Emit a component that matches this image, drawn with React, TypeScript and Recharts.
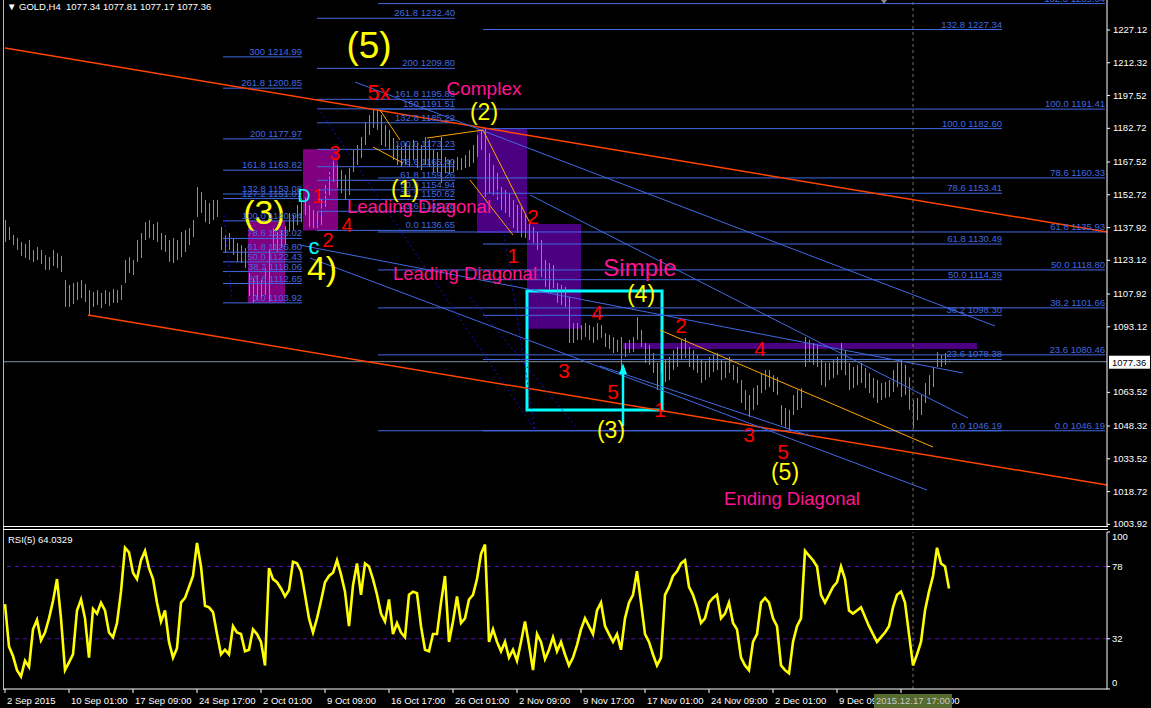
import React from "react"
import {
  ComposedChart, Bar, Line, XAxis, YAxis,
  ReferenceLine, ReferenceArea, ReferenceDot,
} from "recharts"

const FONT = "'Liberation Sans', Arial, sans-serif"
const BAR_GREEN = "#32cd32"
const FIB_BLUE = "#4169e1"
const RED = "#ff0000"
const YELLOW = "#ffff00"
const PINK = "#ff1493"
const CYAN = "#00ffff"
const TREND_RED = "#ff4500"
const ORANGE = "#ffa500"
const DOT_BLUE = "#1010d0"

// GOLD H4 bars, one entry per bar (high / low)
const highs = [
  1141.3, 1138.2, 1134.6, 1133.2, 1131.4, 1130.5, 1132.3, 1127.8, 1129.1, 1127.8,
  1125.5, 1124.6, 1127.8, 1126.4, 1125.1, 1114.2, 1112.0, 1112.9, 1113.3, 1114.2,
  1112.4, 1109.7, 1108.8, 1109.7, 1108.4, 1109.7, 1108.8, 1110.2, 1109.7, 1112.0,
  1123.3, 1124.6, 1123.3, 1132.3, 1135.5, 1140.4, 1141.3, 1139.5, 1140.4, 1135.5,
  1134.6, 1132.3, 1133.2, 1132.3, 1135.9, 1136.8, 1137.7, 1141.3, 1156.2, 1154.0,
  1150.4, 1149.0, 1150.4, 1150.4, 1138.2, 1134.6, 1135.5, 1133.2, 1130.9, 1130.0,
  1128.7, 1117.4, 1115.2, 1116.5, 1114.2, 1119.7, 1127.8, 1137.7, 1135.9, 1136.8,
  1138.6, 1144.5, 1143.6, 1148.1, 1151.3, 1151.7, 1148.1, 1145.9, 1145.0, 1150.4,
  1157.1, 1163.0, 1169.3, 1166.2, 1163.9, 1161.7, 1164.8, 1172.9, 1175.2, 1178.8,
  1185.6, 1188.7, 1191.0, 1191.5, 1188.7, 1184.2, 1182.0, 1178.4, 1175.2, 1174.3,
  1176.1, 1175.2, 1177.5, 1176.1, 1175.2, 1178.8, 1177.5, 1172.9, 1172.0, 1178.8,
  1169.8, 1168.4, 1168.4, 1169.8, 1169.3, 1170.7, 1172.9, 1175.2, 1179.7, 1181.5,
  1182.6, 1171.6, 1166.2, 1162.6, 1156.2, 1154.9, 1153.5, 1150.4, 1148.1, 1147.2,
  1143.6, 1141.3, 1138.2, 1135.9, 1132.3, 1123.3, 1121.9, 1121.0, 1112.9, 1112.0,
  1111.1, 1106.6, 1094.8, 1094.8, 1093.9, 1094.8, 1093.9, 1093.0, 1094.8, 1093.9,
  1090.3, 1089.4, 1088.5, 1087.2, 1088.5, 1085.8, 1087.2, 1088.5, 1097.5, 1091.7,
  1085.8, 1084.9, 1081.3, 1076.8, 1072.3, 1078.1, 1079.5, 1082.6, 1084.0, 1087.2,
  1088.1, 1084.0, 1082.6, 1080.4, 1078.1, 1077.2, 1079.5, 1080.4, 1081.3, 1078.1,
  1077.2, 1079.5, 1075.9, 1075.0, 1069.1, 1064.6, 1062.3, 1065.5, 1066.8, 1072.3,
  1073.6, 1073.6, 1071.3, 1070.4, 1057.8, 1056.5, 1055.6, 1062.3, 1064.6, 1065.5,
  1088.5, 1087.2, 1085.8, 1084.9, 1078.1, 1076.8, 1076.8, 1078.1, 1079.5, 1085.8,
  1082.6, 1076.8, 1075.0, 1075.9, 1076.8, 1074.5, 1072.3, 1070.0, 1069.1, 1067.7,
  1068.2, 1069.1, 1073.6, 1076.8, 1078.1, 1075.9, 1070.4, 1060.1, 1061.0, 1062.3,
  1067.7, 1071.3, 1075.0, 1081.7, 1080.4, 1081.3, 1077.81,
]
const lows = [
  1131.4, 1132.3, 1130.0, 1127.8, 1125.1, 1124.2, 1123.3, 1122.4, 1123.3, 1121.5,
  1118.8, 1118.8, 1120.6, 1119.7, 1117.9, 1102.1, 1102.1, 1103.4, 1105.2, 1106.1,
  1104.3, 1098.4, 1102.1, 1103.0, 1101.6, 1103.4, 1102.5, 1103.9, 1103.9, 1105.2,
  1112.9, 1117.4, 1116.5, 1122.4, 1124.2, 1132.3, 1133.2, 1132.3, 1131.4, 1127.8,
  1126.9, 1122.4, 1121.9, 1123.3, 1124.6, 1126.9, 1130.0, 1133.6, 1142.7, 1144.5,
  1140.4, 1139.5, 1141.3, 1142.7, 1127.8, 1126.4, 1127.8, 1125.5, 1122.4, 1121.9,
  1119.7, 1107.0, 1103.9, 1105.2, 1106.1, 1107.5, 1104.3, 1127.8, 1126.9, 1128.7,
  1130.0, 1135.9, 1136.8, 1139.1, 1140.4, 1143.6, 1138.2, 1137.7, 1136.7, 1139.1,
  1147.2, 1152.6, 1158.5, 1155.8, 1153.5, 1150.4, 1152.6, 1163.0, 1166.2, 1169.3,
  1175.2, 1179.7, 1182.9, 1182.0, 1175.2, 1174.3, 1172.9, 1168.4, 1166.2, 1165.3,
  1166.2, 1165.3, 1168.4, 1164.8, 1163.9, 1166.2, 1165.3, 1162.6, 1163.0, 1158.0,
  1162.6, 1162.1, 1163.0, 1163.9, 1163.9, 1164.8, 1165.3, 1167.1, 1169.8, 1172.9,
  1151.7, 1153.5, 1152.6, 1150.4, 1145.9, 1144.5, 1142.7, 1137.7, 1135.5, 1133.6,
  1133.2, 1132.3, 1130.9, 1127.8, 1115.6, 1111.1, 1109.7, 1110.6, 1103.9, 1103.0,
  1102.1, 1085.8, 1085.8, 1087.2, 1087.2, 1088.5, 1087.2, 1085.8, 1087.2, 1088.1,
  1084.0, 1083.1, 1081.3, 1081.7, 1073.6, 1079.5, 1081.3, 1081.7, 1087.2, 1084.0,
  1076.8, 1075.9, 1072.3, 1064.6, 1064.6, 1068.2, 1069.1, 1073.6, 1075.0, 1078.1,
  1079.0, 1075.0, 1073.6, 1072.3, 1067.7, 1069.1, 1070.4, 1072.7, 1073.6, 1069.1,
  1070.0, 1072.3, 1069.1, 1067.7, 1058.7, 1055.6, 1052.4, 1055.6, 1057.8, 1063.2,
  1064.6, 1065.9, 1063.7, 1062.3, 1048.8, 1047.4, 1046.19, 1053.3, 1055.6, 1056.5,
  1075.0, 1077.2, 1075.9, 1075.0, 1066.8, 1065.9, 1069.1, 1070.0, 1071.3, 1073.6,
  1071.3, 1064.6, 1065.5, 1066.8, 1067.7, 1065.5, 1063.2, 1061.0, 1058.7, 1060.1,
  1061.0, 1061.4, 1063.7, 1065.9, 1061.4, 1062.3, 1055.6, 1047.4, 1051.0, 1053.3,
  1058.7, 1062.3, 1065.9, 1075.0, 1075.0, 1075.9, 1077.17,
]
// RSI(5), one value per bar
const rsi5 = [
  54, 27, 21, 12, 8, 18, 14, 38, 44, 31,
  36, 45, 56, 70, 45, 12, 17, 22, 50, 57,
  45, 20, 51, 48, 55, 50, 36, 33, 42, 62,
  90, 87, 74, 70, 82, 88, 77, 70, 55, 43,
  50, 30, 20, 26, 55, 58, 65, 72, 93, 78,
  53, 52, 49, 35, 22, 25, 22, 40, 36, 35,
  24, 25, 38, 35, 30, 15, 77, 70, 68, 64,
  59, 63, 81, 80, 75, 60, 45, 36, 45, 56,
  68, 72, 74, 82, 73, 62, 40, 66, 80, 60,
  80, 78, 70, 60, 48, 43, 57, 35, 42, 36,
  33, 60, 62, 61, 40, 25, 24, 35, 35, 55,
  72, 30, 43, 59, 42, 45, 57, 60, 70, 86,
  92, 30, 38, 30, 24, 30, 20, 25, 18, 30,
  43, 28, 12, 35, 30, 19, 25, 33, 24, 30,
  22, 15, 20, 28, 38, 45, 40, 35, 50, 55,
  40, 35, 30, 35, 25, 45, 55, 60, 75, 55,
  35, 30, 22, 15, 20, 60, 65, 72, 75, 80,
  82, 65, 60, 52, 42, 45, 55, 58, 60, 45,
  48, 55, 42, 38, 20, 15, 12, 30, 35, 55,
  58, 55, 45, 40, 15, 12, 10, 30, 40, 45,
  88, 85, 82, 78, 60, 55, 60, 65, 68, 78,
  70, 50, 48, 50, 52, 46, 40, 35, 30, 33,
  36, 40, 52, 60, 62, 55, 35, 15, 22, 30,
  50, 62, 72, 90, 80, 78, 64.0329,
]

const priceTicks = [
  1227.12, 1212.32, 1197.52, 1182.72, 1167.52, 1152.72, 1137.92, 1123.12,
  1107.92, 1093.12, 1063.52, 1048.32, 1033.52, 1018.72, 1003.92,
]
const lastPrice = 1077.36
const dateTickBars = [0, 16, 32, 48, 64, 80, 96, 112, 128, 144, 160, 176, 192, 208, 224]
const dateLabels = [
  "2 Sep 2015", "10 Sep 01:00", "17 Sep 09:00", "24 Sep 17:00", "2 Oct 01:00",
  "9 Oct 09:00", "16 Oct 17:00", "26 Oct 01:00", "2 Nov 09:00", "9 Nov 17:00",
  "17 Nov 01:00", "24 Nov 09:00", "2 Dec 01:00", "9 Dec 09:00", "16 Dec 17:00",
]
const rsiTicks = [0, 32, 78, 100]
const rsiLevels = [32, 78]
const crossBar = 227
const crossLabel = "2015.12.17 17:00"

// fibonacci objects: bar range + [level, price]
const fibSets: { from: number; to: number; levels: [string, number][] }[] = [
  { from: 54.5, to: 74.25, levels: [
    ["300", 1214.99], ["261.8", 1200.85], ["200", 1177.97], ["161.8", 1163.82],
    ["132.8", 1153.08], ["127.2", 1151.01], ["100.0", 1140.94], ["78.6", 1133.02],
    ["61.8", 1126.80], ["50.0", 1122.43], ["38.2", 1118.06], ["23.6", 1112.65], ["0.0", 1103.92],
  ] },
  { from: 78, to: 112.5, levels: [
    ["261.8", 1232.40], ["200", 1209.80], ["161.8", 1195.83], ["150", 1191.51],
    ["132.8", 1185.22], ["100.0", 1173.23], ["78.6", 1165.40], ["61.8", 1159.26],
    ["50.0", 1154.94], ["38.2", 1150.62], ["23.6", 1145.28], ["0.0", 1136.65],
  ] },
  { from: 119.5, to: 249.25, levels: [
    ["132.8", 1227.34], ["100.0", 1182.60], ["78.6", 1153.41], ["61.8", 1130.49],
    ["50.0", 1114.39], ["38.2", 1098.30], ["23.6", 1078.38], ["0.0", 1046.19],
  ] },
  { from: 93.25, to: 275, levels: [
    ["132.8", 1239.04], ["100.0", 1191.41], ["78.6", 1160.33], ["61.8", 1135.93],
    ["50.0", 1118.80], ["38.2", 1101.66], ["23.6", 1080.46], ["0.0", 1046.19],
  ] },
]

// trend lines: [bar, price] -> [bar, price]
const trendLines: { a: [number, number]; b: [number, number]; color: string; w?: number; dash?: string }[] = [
  { a: [0, 1218.99], b: [275.5, 1135.91], color: TREND_RED, w: 1.5 },
  { a: [20.75, 1098.44], b: [275.5, 1021.68], color: TREND_RED, w: 1.5 },
  { a: [87.5, 1203.64], b: [247.5, 1093.47], color: FIB_BLUE },
  { a: [131.25, 1152.62], b: [240.75, 1051.93], color: FIB_BLUE },
  { a: [73.75, 1130.0], b: [239.5, 1072.25], color: FIB_BLUE },
  { a: [76.25, 1124.17], b: [230.5, 1019.43], color: FIB_BLUE },
  { a: [148.75, 1075.41], b: [201.25, 1043.81], color: FIB_BLUE },
  { a: [78.25, 1191.9], b: [132.5, 1046.51], color: DOT_BLUE, dash: "2 3" },
  { a: [123, 1154.88], b: [132.5, 1046.51], color: DOT_BLUE, dash: "2 3" },
  { a: [116.25, 1106.56], b: [143, 1047.42], color: DOT_BLUE, dash: "2 3" },
  { a: [54.75, 1143.59], b: [56.75, 1105.21], color: DOT_BLUE, dash: "2 3" },
  { a: [78, 1136.81], b: [82.5, 1172.03], color: DOT_BLUE, dash: "2 3" },
  { a: [163.75, 1091.66], b: [232, 1038.84], color: ORANGE },
  { a: [105.5, 1178.35], b: [119.5, 1181.96], color: ORANGE },
  { a: [119.5, 1181.96], b: [131.25, 1139.97], color: ORANGE },
  { a: [116.25, 1159.39], b: [127, 1134.56], color: ORANGE },
  { a: [93.75, 1190.99], b: [98.75, 1177.45], color: ORANGE },
  { a: [92, 1174.29], b: [99.5, 1167.07], color: ORANGE },
]

const zones = [
  { x1: 60.75, x2: 70, y1: 1103.92, y2: 1140.94, fill: "#800080" },
  { x1: 74.5, x2: 83.25, y1: 1136.65, y2: 1173.23, fill: "#800080" },
  { x1: 118, x2: 130.5, y1: 1135.5, y2: 1182.6, fill: "#4b0082" },
  { x1: 130.5, x2: 144, y1: 1092.2, y2: 1139.5, fill: "#4b0082" },
  { x1: 154.5, x2: 243, y1: 1083.1, y2: 1085.8, fill: "#4b0082" },
]

const waveLabels: { i: number; p: number; t: string; c: string; s: number }[] = [
  { i: 91, p: 1220.3, t: "(5)", c: YELLOW, s: 37 },
  { i: 93.5, p: 1199.1, t: "5x", c: RED, s: 22 },
  { i: 119.75, p: 1200.5, t: "Complex", c: PINK, s: 19 },
  { i: 119.75, p: 1190.1, t: "(2)", c: YELLOW, s: 23 },
  { i: 82.5, p: 1171.6, t: "3", c: RED, s: 20 },
  { i: 100, p: 1155.3, t: "(1)", c: YELLOW, s: 23 },
  { i: 103.5, p: 1147.6, t: "Leading Diagonal", c: PINK, s: 18.5 },
  { i: 74.75, p: 1152.2, t: "D", c: CYAN, s: 18 },
  { i: 78.25, p: 1152.2, t: "1", c: RED, s: 20 },
  { i: 80.75, p: 1132.3, t: "2", c: RED, s: 20 },
  { i: 85.5, p: 1139.1, t: "4", c: RED, s: 20 },
  { i: 77.25, p: 1129.6, t: "c", c: CYAN, s: 22 },
  { i: 79.25, p: 1119.7, t: "4)", c: YELLOW, s: 34 },
  { i: 115, p: 1117.4, t: "Leading Diagonal", c: PINK, s: 18.5 },
  { i: 127, p: 1125.5, t: "1", c: RED, s: 21 },
  { i: 132, p: 1142.7, t: "2", c: RED, s: 21 },
  { i: 158.75, p: 1119.7, t: "Simple", c: PINK, s: 24 },
  { i: 159, p: 1107.9, t: "(4)", c: YELLOW, s: 23 },
  { i: 148, p: 1099.8, t: "4", c: RED, s: 21 },
  { i: 169, p: 1093.5, t: "2", c: RED, s: 21 },
  { i: 188.75, p: 1083.5, t: "4", c: RED, s: 21 },
  { i: 139.75, p: 1073.6, t: "3", c: RED, s: 21 },
  { i: 152, p: 1064.1, t: "5", c: RED, s: 21 },
  { i: 163.75, p: 1055.6, t: "1", c: RED, s: 21 },
  { i: 151.5, p: 1046.5, t: "(3)", c: YELLOW, s: 23 },
  { i: 186, p: 1044.7, t: "3", c: RED, s: 21 },
  { i: 194.5, p: 1036.6, t: "5", c: RED, s: 21 },
  { i: 195, p: 1027.6, t: "(5)", c: YELLOW, s: 23 },
  { i: 196.75, p: 1015.4, t: "Ending Diagonal", c: PINK, s: 18.5 },
]

const rows = highs.map((h, i) => ({ i, hl: [lows[i], h], rsi: rsi5[i] }))

function HLBar(props: any) {
  const { x, y, width, height } = props
  const cx = Math.round(x + width / 2)
  return <rect x={cx} y={y} width={1} height={Math.max(1, Math.abs(height))} fill={BAR_GREEN} />
}

function label(t: string, c: string, s: number, anchor = "middle", dy = 0, base = "central") {
  return (p: any) => (
    <text x={p.cx} y={p.cy + dy} fill={c} fontSize={s} fontFamily={FONT}
      textAnchor={anchor} dominantBaseline={base}>{t}</text>
  )
}

function PriceTick(props: any) {
  const { x, y, payload } = props
  return (
    <g>
      <line x1={x} x2={x + 3} y1={y} y2={y} stroke="#fff" />
      <text x={x + 6} y={y + 3} fill="#fff" fontSize={9.5} fontFamily={FONT}>
        {Number(payload.value).toFixed(2)}
      </text>
    </g>
  )
}

function RsiTick(props: any) {
  const { x, y, payload } = props
  const v = payload.value
  const dy = v === 100 ? 8 : v === 0 ? -3 : 3
  return (
    <g>
      <line x1={x} x2={x + 3} y1={y} y2={y} stroke="#fff" />
      <text x={x + 5} y={y + dy} fill="#fff" fontSize={9.5} fontFamily={FONT}>{v}</text>
    </g>
  )
}

// date ticks; the crosshair bar is the last tick so its box is painted on top
function DateTick(props: any) {
  const { x, y, payload } = props
  if (payload.value === crossBar) {
    return (
      <g>
        <rect x={x - 39} y={y + 5} width={78} height={14} fill="#556b2f" />
        <text x={x} y={y + 15} fill="#c8c8c8" fontSize={9.5} fontFamily={FONT} textAnchor="middle">{crossLabel}</text>
      </g>
    )
  }
  const k = dateTickBars.indexOf(payload.value)
  return (
    <g>
      <line x1={x} x2={x} y1={y} y2={y + 4} stroke="#fff" />
      <text x={x + 2} y={y + 15} fill="#fff" fontSize={9.5} fontFamily={FONT}>{dateLabels[k]}</text>
    </g>
  )
}

export default function App() {
  return (
    <div style={{ position: "absolute", left: 0, top: 0, width: 1151, height: 708, background: "#000", overflow: "hidden", fontFamily: FONT }}>
      <div style={{ position: "absolute", left: 0, top: 0 }}>
        <ComposedChart width={1151} height={535} data={rows} margin={{ top: 0, right: 0, bottom: 8, left: 4 }}>
          <XAxis type="number" dataKey="i" domain={[-0.25, 275.5]} allowDataOverflow hide />
          <YAxis
            orientation="right" width={44} domain={[1002.74, 1240.66]} allowDataOverflow
            ticks={priceTicks} interval={0} tickSize={0} tickMargin={0}
            tick={<PriceTick />} axisLine={{ stroke: "#fff" }} tickLine={false}
          />
          {zones.map((z, k) => (
            <ReferenceArea key={"z" + k} x1={z.x1} x2={z.x2} y1={z.y1} y2={z.y2}
              fill={z.fill} fillOpacity={1} stroke="none" ifOverflow="visible" />
          ))}
          <ReferenceDot x={64.75} y={1144.9} ifOverflow="visible" shape={label("(3)", YELLOW, 34)} />
          <Bar dataKey="hl" shape={<HLBar />} barSize={2} isAnimationActive={false} />
          <ReferenceLine y={lastPrice} stroke="#8391a3" ifOverflow="visible" />
          {fibSets.map((f, k) => f.levels.map(([lv, p]) => (
            <ReferenceLine key={`f${k}-${lv}`} segment={[{ x: f.from, y: p }, { x: f.to, y: p }]}
              stroke={FIB_BLUE} strokeWidth={1} ifOverflow="visible" />
          )))}
          {trendLines.map((t, k) => (
            <ReferenceLine key={"t" + k} segment={[{ x: t.a[0], y: t.a[1] }, { x: t.b[0], y: t.b[1] }]}
              stroke={t.color} strokeWidth={t.w ?? 1} strokeDasharray={t.dash} ifOverflow="visible" />
          ))}
          <ReferenceLine x={crossBar} stroke="#707060" strokeDasharray="3 3" ifOverflow="visible" />
          <ReferenceArea x1={130.5} x2={164.25} y1={1055.6} y2={1109.3}
            fill="none" fillOpacity={0} stroke={CYAN} strokeWidth={3} ifOverflow="visible" />
          <ReferenceLine segment={[{ x: 154.5, y: 1048.3 }, { x: 154.5, y: 1074 }]}
            stroke={CYAN} strokeWidth={2.5} ifOverflow="visible" />
          <ReferenceDot x={154.5} y={1076.2} ifOverflow="visible"
            shape={(p: any) => <polygon points={`${p.cx},${p.cy - 1} ${p.cx - 4},${p.cy + 10} ${p.cx + 4},${p.cy + 10}`} fill={CYAN} />} />
          {fibSets.map((f, k) => f.levels.map(([lv, p]) => (
            <ReferenceDot key={`fl${k}-${lv}`} x={f.to} y={p} ifOverflow="visible"
              shape={label(`${lv} ${p.toFixed(2)}`, FIB_BLUE, 9.5, "end", -2, "auto")} />
          )))}
          {waveLabels.map((w, k) => (
            <ReferenceDot key={"w" + k} x={w.i} y={w.p} ifOverflow="visible" shape={label(w.t, w.c, w.s)} />
          ))}
          <ReferenceDot x={219.75} y={1240.2} ifOverflow="visible"
            shape={(p: any) => <polygon points={`${p.cx - 3},${p.cy - 1} ${p.cx + 3},${p.cy - 1} ${p.cx},${p.cy + 3}`} fill="#8a8a8a" />} />
          <ReferenceDot x={275.5} y={lastPrice} ifOverflow="visible"
            shape={(p: any) => (
              <g>
                <rect x={p.cx + 2} y={p.cy - 6} width={41} height={13} fill="#fff" />
                <text x={p.cx + 5} y={p.cy + 4} fill="#000" fontSize={9.5} fontFamily={FONT}>{lastPrice.toFixed(2)}</text>
              </g>
            )} />
        </ComposedChart>
      </div>

      <div style={{ position: "absolute", left: 0, top: 527 }}>
        <ComposedChart width={1151} height={181} data={rows} margin={{ top: 5, right: 0, bottom: 0, left: 4 }}>
          <XAxis
            type="number" dataKey="i" domain={[-0.25, 275.5]} allowDataOverflow
            ticks={[...dateTickBars, crossBar]} interval={0} height={19} tickSize={0} tickMargin={0}
            tick={<DateTick />} axisLine={{ stroke: "#fff" }} tickLine={false}
          />
          <YAxis
            orientation="right" width={44} domain={[0, 100]} allowDataOverflow
            ticks={rsiTicks} interval={0} tickSize={0} tickMargin={0}
            tick={<RsiTick />} axisLine={{ stroke: "#fff" }} tickLine={false}
          />
          {rsiLevels.map((v) => (
            <ReferenceLine key={"r" + v} y={v} stroke="#5010b0" strokeDasharray="4 4" />
          ))}
          <ReferenceLine x={crossBar} stroke="#707060" strokeDasharray="3 3" />
          <Line type="linear" dataKey="rsi" stroke={YELLOW} strokeWidth={2.6} dot={false} isAnimationActive={false} />
        </ComposedChart>
      </div>

      <div style={{ position: "absolute", left: 3, top: 0, width: 1, height: 690, background: "#b8b8b8" }} />
      <div style={{ position: "absolute", left: 3, top: 526, width: 1105, height: 1, background: "#fff" }} />
      <div style={{ position: "absolute", left: 3, top: 529, width: 1105, height: 1, background: "#fff" }} />
      <div style={{ position: "absolute", left: 7, top: 1, color: "#fff", fontSize: 9.5, whiteSpace: "pre", lineHeight: "12px" }}>
        {"\u25BC GOLD,H4  1077.34 1077.81 1077.17 1077.36"}
      </div>
      <div style={{ position: "absolute", left: 8, top: 534, color: "#fff", fontSize: 9.5, whiteSpace: "pre", lineHeight: "12px" }}>
        RSI(5) 64.0329
      </div>
    </div>
  )
}
